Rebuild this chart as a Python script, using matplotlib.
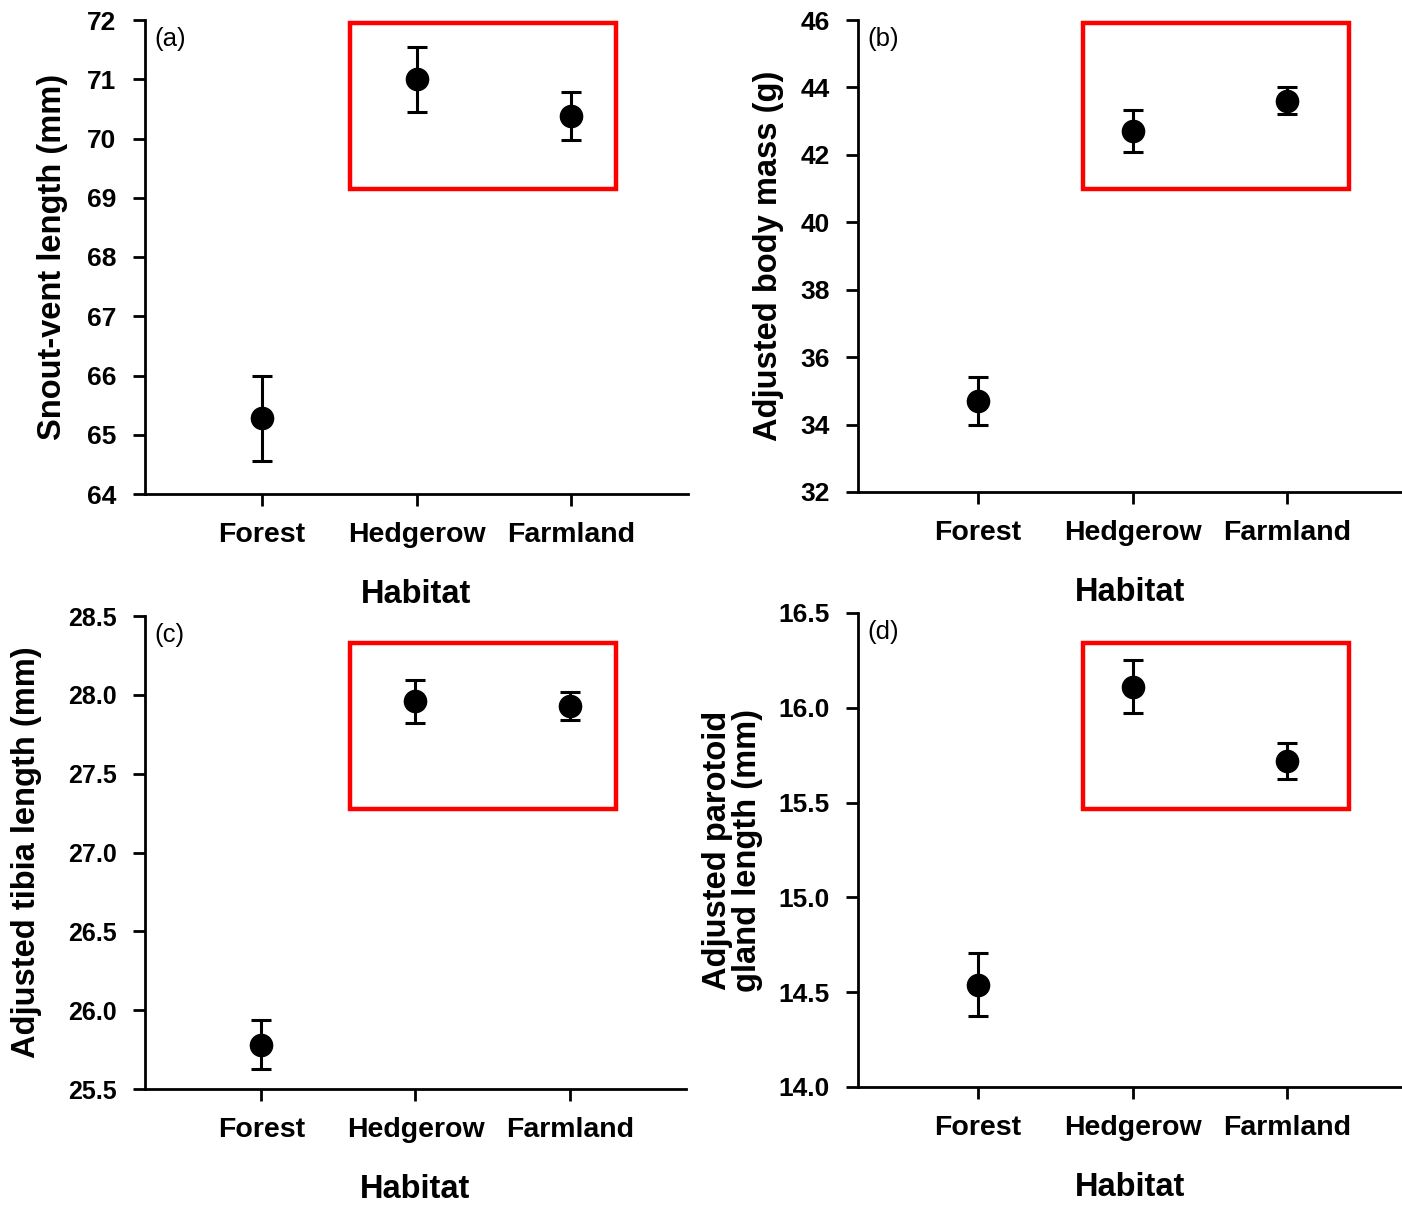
import numpy as np
import matplotlib.pyplot as plt
from matplotlib.patches import Rectangle

plt.rcParams['font.family'] = ['Liberation Sans', 'DejaVu Sans']

# DATA
habitats = ["Forest", "Hedgerow", "Farmland"]

svl_mean = [65.28, 71.00, 70.38]
svl_err = [0.72, 0.55, 0.41]

mass_mean = [34.70, 42.71, 43.60]
mass_err = [0.70, 0.62, 0.40]

tibia_mean = [25.78, 27.96, 27.93]
tibia_err = [0.155, 0.137, 0.09]

parotoid_mean = [14.54, 16.11, 15.72]
parotoid_err = [0.165, 0.14, 0.095]

panels = [
    ("(a)", svl_mean, svl_err, "Snout-vent length (mm)", (64, 72), np.arange(64, 73, 1), "%d"),
    ("(b)", mass_mean, mass_err, "Adjusted body mass (g)", (32, 46), np.arange(32, 47, 2), "%d"),
    ("(c)", tibia_mean, tibia_err, "Adjusted tibia length (mm)", (25.5, 28.5), np.arange(25.5, 28.6, 0.5), "%.1f"),
    ("(d)", parotoid_mean, parotoid_err, "Adjusted parotoid\ngland length (mm)", (14.0, 16.5), np.arange(14.0, 16.6, 0.5), "%.1f"),
]

# axes rectangles in pixels: left, top, right, bottom
boxes = [
    (145, 20, 688, 494),
    (858, 20, 1402, 492),
    (145, 616, 686, 1089),
    (858, 613, 1402, 1087),
]
xlims = [(0.245, 3.755), (0.223, 3.744), (0.245, 3.755), (0.223, 3.744)]
# red frames in pixels: left, top, right, bottom
frames = [
    (350, 23, 616, 189),
    (1083, 23, 1349, 189),
    (350, 643, 616, 809),
    (1083, 643, 1349, 809),
]
ylabel_x = [68, 784, 42, 763]
ytick_size = [19, 19, 18, 19]

W, H = 1402, 1210
fig = plt.figure(figsize=(W / 100, H / 100), dpi=100)

x = np.arange(1, 4)
for i, (tag, mean, err, ylab, ylim, yticks, fmt) in enumerate(panels):
    l, t, r, b = boxes[i]
    ax = fig.add_axes([l / W, 1 - b / H, (r - l) / W, (b - t) / H])
    ax.errorbar(x, mean, yerr=err, fmt='o', color='black', markersize=16,
                elinewidth=2.2, capsize=7, capthick=2.2, clip_on=False, zorder=3)
    ax.set_xlim(*xlims[i])
    ax.set_ylim(*ylim)
    ax.set_yticks(yticks)
    ax.set_yticklabels([fmt % v for v in yticks], fontsize=ytick_size[i], fontweight='bold')
    ax.set_xticks(x)
    ax.set_xticklabels(habitats, fontsize=20.5, fontweight='bold')
    for s in ['top', 'right']:
        ax.spines[s].set_visible(False)
    for s in ['left', 'bottom']:
        ax.spines[s].set_linewidth(2)
    ax.tick_params(axis='both', direction='out', length=8.5, width=2)
    ax.tick_params(axis='x', pad=12)
    ax.tick_params(axis='y', pad=12)
    ax.set_xlabel("Habitat", fontsize=23.5, fontweight='bold', labelpad=22)
    ax.set_ylabel(ylab, fontsize=23.5, fontweight='bold', linespacing=0.95)
    ax.yaxis.set_label_coords((ylabel_x[i] - l) / (r - l), 0.5)
    ax.text(0.018, 0.985, tag, transform=ax.transAxes, fontsize=18.5,
            ha='left', va='top')

    fl, ft, fr, fb = frames[i]
    fig.patches.append(Rectangle((fl / W, 1 - fb / H), (fr - fl) / W, (fb - ft) / H,
                                 transform=fig.transFigure, fill=False,
                                 edgecolor='#ff0000', linewidth=3.2, zorder=5))

fig.savefig("out.png", dpi=100)
